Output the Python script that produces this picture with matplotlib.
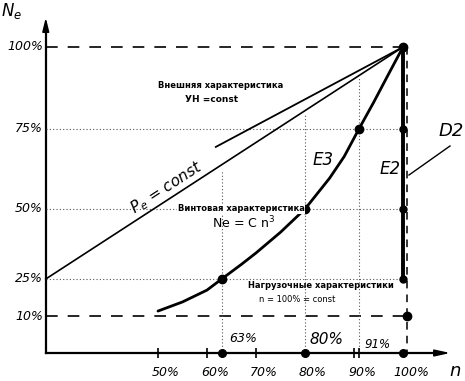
import numpy as np
import matplotlib
matplotlib.use("Agg")
import matplotlib.pyplot as plt

# ---------------- data ----------------
y_ticks = [100, 75, 50, 25, 10]
y_tick_labels = ["100%", "75%", "50%", "25%", "10%"]
x_ticks = [50, 60, 70, 80, 90, 100]
x_tick_labels = ["50%", "60%", "70%", "80%", "90%", "100%"]

# propeller characteristic E3 (Ne = C n^3)
prop_n = [50, 55, 60, 63, 67, 70, 75, 80, 85, 88, 91, 94, 97, 100]
prop_ne = [12, 15.7, 20.5, 25, 30.2, 34.3, 41.7, 50, 59.6, 66.4, 75, 83.1, 91.6, 100]
prop_dots_n = [63, 80, 91, 100]
prop_dots_ne = [25, 50, 75, 100]

# Pe = const line and external characteristic
pe_n = [27.1, 100]
pe_ne = [25, 100]
ext_n = [61.8, 100]
ext_ne = [69.4, 100]

# load characteristics n = 100% = const
load_ne = [100, 75, 50, 25]
load_n = 100
load_low_ne = 10
load_low_n = 100.9

marked_n = [63, 80, 91]
marked_labels = ["63%", "80%", "91%"]
axis_x0 = 27.1
axis_x1 = 110.2
axis_y1 = 109.8

# ---------------- scale (hand-drawn uneven y spacing) ----------------
Vs = np.array([-30, 0, 10, 25, 50, 75, 100, 140], dtype=float)
Ps = np.array([353 + 108, 353, 316, 279, 209, 129, 47, 47 - 131.2])
U = 381 - Ps


def fwd(v):
    return np.interp(v, Vs, U)


def inv(u):
    return np.interp(u, U, Vs)


fig = plt.figure(figsize=(4.65, 3.81), dpi=100)
ax = fig.add_axes([0, 0, 1, 1])
ax.set_yscale("function", functions=(fwd, inv))
ax.set_xlim(17.76, 112.65)
ax.set_ylim(float(inv(0)), float(inv(381)))
ax.axis("off")

hand = dict(family="DejaVu Sans", style="italic")

# axes with arrows
ax.plot([axis_x0, axis_x0], [0, axis_y1 - 3], color="black", lw=1.6)
ax.annotate("", xy=(axis_x0, axis_y1), xytext=(axis_x0, axis_y1 - 6),
            arrowprops=dict(arrowstyle="-|>,head_length=0.8,head_width=0.2",
                            color="black", lw=1.2))
ax.plot([axis_x0, axis_x1 - 2], [0, 0], color="black", lw=1.6)
ax.annotate("", xy=(axis_x1, 0), xytext=(axis_x1 - 4, 0),
            arrowprops=dict(arrowstyle="-|>,head_length=0.9,head_width=0.2",
                            color="black", lw=1.2))

# dashed lines at 100% and 10%
dash = dict(color="black", lw=1.2, dashes=(7, 6))
ax.plot([axis_x0, load_n], [100, 100], **dash)
ax.plot([axis_x0, load_low_n], [load_low_ne, load_low_ne], **dash)
ax.plot([load_low_n, load_low_n], [100, 0], color="black", lw=1.1, dashes=(5, 4))

# dotted guide lines
dot = dict(color="#555555", lw=0.8, dashes=(1, 2))
for v in [75, 50, 25]:
    ax.plot([axis_x0, load_n], [v, v], **dot)
for n in marked_n:
    ax.plot([n, n], [0, float(np.interp(n, pe_n, pe_ne))], **dot)

# Pe = const and external characteristic
ax.plot(pe_n, pe_ne, color="black", lw=1.2)
ax.plot(ext_n, ext_ne, color="black", lw=1.3)

# propeller curve
ax.plot(prop_n, prop_ne, color="black", lw=2.0, solid_capstyle="round",
        solid_joinstyle="round")
ax.plot(prop_dots_n, prop_dots_ne, "o", color="black", ms=6)

# load characteristic (thick vertical)
ax.plot([load_n] * len(load_ne), load_ne, color="black", lw=2.8)
ax.plot([load_n] * len(load_ne), load_ne, "o", color="black", ms=5)
ax.plot([load_low_n], [load_low_ne], "o", color="black", ms=6)

# x-axis marks
for n in [50, 60, 70, 90, 91]:
    ax.plot([n], [0], marker="|", color="black", ms=7, mew=1.2)
ax.plot(marked_n[:2] + [100], [0, 0, 0], "o", color="black", ms=5.5)

# tick labels
for v, lab in zip(y_ticks, y_tick_labels):
    ax.annotate(lab, xy=(axis_x0, v), xytext=(-3, 0), textcoords="offset pixels",
                ha="right", va="center", fontsize=9, **hand)
for n, lab in zip(x_ticks, x_tick_labels):
    ax.annotate(lab, xy=(n, 0), xytext=(8, -20), textcoords="offset pixels",
                ha="center", va="center", fontsize=9, **hand)
for n, lab, off, fs in zip(marked_n, marked_labels, [(21, 15), (21, 13), (19, 9)], [9, 11, 8.5]):
    ax.annotate(lab, xy=(n, 0), xytext=off, textcoords="offset pixels",
                ha="center", va="center", fontsize=fs, **hand)


def px(x, y):
    return x / 465, 1 - y / 381


T = ax.transAxes

# axis titles
ax.text(*px(1, 1), r"$N_e$", transform=T, ha="left", va="top", fontsize=12)
ax.annotate("n", xy=(axis_x1, 0), xytext=(2, -18), textcoords="offset pixels",
            ha="center", va="center", fontsize=13, **hand)

ax.text(*px(221, 86), "Внешняя характеристика", transform=T, ha="center", va="center",
        fontsize=6, fontweight="bold")
ax.text(*px(212, 99), "УН =const", transform=T, ha="center", va="center",
        fontsize=6.5, fontweight="bold")
ax.text(*px(241, 209), "Винтовая характеристика", transform=T, ha="center", va="center",
        fontsize=6, fontweight="bold",
        bbox=dict(facecolor="white", edgecolor="none", pad=0.5))
ax.text(*px(244, 223), r"Ne = C n$^3$", transform=T, ha="center", va="center", fontsize=9)
ax.text(*px(321, 286), "Нагрузочные характеристики", transform=T, ha="center",
        va="center", fontsize=6, fontweight="bold")
ax.text(*px(297, 299), "n = 100% = const", transform=T, ha="center", va="center",
        fontsize=6)
ax.text(*px(166, 188), r"$P_e$ = const", transform=T, ha="center", va="center",
        rotation=33, fontsize=11, **hand)
ax.text(*px(323, 160), "E3", transform=T, ha="center", va="center", fontsize=12, **hand)
ax.text(*px(390, 169), "E2", transform=T, ha="center", va="center", fontsize=12, **hand)
ax.text(*px(451, 131), "D2", transform=T, ha="center", va="center", fontsize=13, **hand)
ax.plot([450 / 465, 409 / 465], [1 - 146 / 381, 1 - 175 / 381], transform=T,
        color="black", lw=1.0)

fig.savefig("out.png", dpi=100, facecolor="white")
